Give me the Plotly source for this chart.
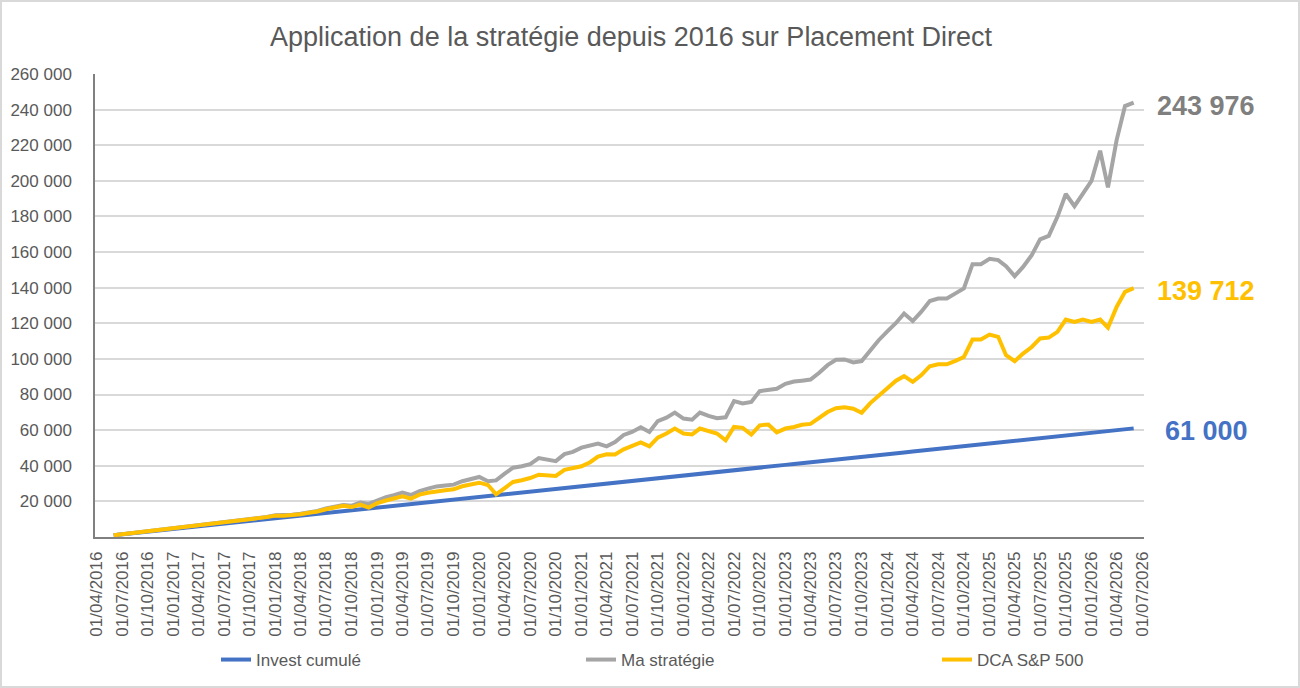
import pandas as pd
import plotly.graph_objects as go

# ---------------- data ----------------
START_MONTH = "2016-06-01"

invest_cumule = [
    1000, 1500, 2000, 2500, 3000, 3500, 4000, 4500, 5000, 5500,
    6000, 6500, 7000, 7500, 8000, 8500, 9000, 9500, 10000, 10500,
    11000, 11500, 12000, 12500, 13000, 13500, 14000, 14500, 15000, 15500,
    16000, 16500, 17000, 17500, 18000, 18500, 19000, 19500, 20000, 20500,
    21000, 21500, 22000, 22500, 23000, 23500, 24000, 24500, 25000, 25500,
    26000, 26500, 27000, 27500, 28000, 28500, 29000, 29500, 30000, 30500,
    31000, 31500, 32000, 32500, 33000, 33500, 34000, 34500, 35000, 35500,
    36000, 36500, 37000, 37500, 38000, 38500, 39000, 39500, 40000, 40500,
    41000, 41500, 42000, 42500, 43000, 43500, 44000, 44500, 45000, 45500,
    46000, 46500, 47000, 47500, 48000, 48500, 49000, 49500, 50000, 50500,
    51000, 51500, 52000, 52500, 53000, 53500, 54000, 54500, 55000, 55500,
    56000, 56500, 57000, 57500, 58000, 58500, 59000, 59500, 60000, 60500,
    61000,
]

ma_strategie = [
    1000, 1540, 2060, 2580, 3100, 3680, 4280, 4850, 5500, 6000,
    6550, 7100, 7650, 8300, 8800, 9400, 10000, 10700, 11300, 12200,
    12300, 12500, 13100, 13900, 14600, 16000, 17100, 18000, 17600, 19300,
    18600, 20800, 22400, 23500, 24900, 23600, 25800, 27200, 28400, 28900,
    29400, 31300, 32300, 33700, 31300, 31800, 35600, 38900, 39700, 40900,
    44300, 43600, 42600, 46500, 47800, 50200, 51200, 52500, 50900, 53300,
    57300, 59000, 61600, 59000, 65100, 67000, 69900, 66500, 65900, 69900,
    68000, 66700, 67200, 76300, 75000, 75800, 81900, 82600, 83200, 86000,
    87300, 87800, 88400, 92100, 96500, 99500, 99700, 98000, 98800, 104700,
    110500, 115500, 120200, 125500, 121300, 126400, 132500, 133900, 133900, 136800,
    139600, 153200, 153200, 156200, 155500, 152100, 146500, 151700, 158300, 167100,
    169100, 179800, 192600, 185800, 193000, 200000, 216900, 196300, 222900, 242000,
    243976,
]

dca_sp500 = [
    1000, 1530, 2050, 2560, 3080, 3650, 4250, 4800, 5450, 5950,
    6500, 7050, 7600, 8250, 8700, 9300, 9900, 10600, 11150, 12000,
    12000, 12200, 12800, 13600, 14300, 15600, 16700, 17500, 16800, 18200,
    16500, 19000, 20500, 21800, 22800, 21500, 23800, 24800, 25700, 26200,
    26800, 28500, 29500, 30500, 29200, 24000, 27500, 30900, 31900, 33100,
    35000, 34800, 34300, 37700, 38800, 39700, 42000, 45200, 46400, 46300,
    49200, 51200, 53100, 50900, 55800, 58100, 60900, 58100, 57600, 60900,
    59400, 58100, 54300, 61800, 61300, 57500, 62700, 63200, 58800, 60900,
    61800, 63000, 63500, 67000, 70200, 72300, 72900, 72000, 69800, 75200,
    79200, 83800, 87800, 90300, 87100, 90800, 95900, 97000, 97000, 98900,
    101100, 110900, 110900, 113700, 112400, 102100, 98700, 103000, 106700, 111500,
    112000, 115200, 122100, 120800, 122100, 120800, 122100, 117600, 129200, 137700,
    139712,
]

series_names = ["Invest cumulé", "Ma stratégie", "DCA S&P 500"]
series_colors = ["#4472C4", "#A5A5A5", "#FFC000"]
label_colors = ["#4472C4", "#7F7F7F", "#FFC000"]
y_tick_values = [20000, 40000, 60000, 80000, 100000, 120000, 140000,
                 160000, 180000, 200000, 220000, 240000, 260000]

title_text = "Application de la stratégie depuis 2016 sur Placement Direct"

# ---------------- figure ----------------
dates = pd.date_range(START_MONTH, periods=len(invest_cumule), freq="MS")
FONT = "Liberation Sans, Arial, sans-serif"
TXT = "#595959"


def fmt(v):
    return f"{int(round(v)):,}".replace(",", " ")


L, R, T, B = 95, 156, 74, 151
W, H = 1300, 688
pw, ph = W - L - R, H - T - B

legend_ids = ["legend", "legend2", "legend3"]
legend_left_px = [216, 581, 937]

fig = go.Figure()
for name, vals, col, lg in zip(series_names, [invest_cumule, ma_strategie, dca_sp500],
                               series_colors, legend_ids):
    fig.add_trace(go.Scatter(x=dates, y=vals, mode="lines", name=name, legend=lg,
                             line=dict(color=col, width=4)))

# end labels
for vals, col in zip([invest_cumule, ma_strategie, dca_sp500], label_colors):
    fig.add_annotation(x=(1206 - L) / pw, xref="paper", y=vals[-1], yref="y", yshift=-3,
                       text=f"<b>{fmt(vals[-1])}</b>", showarrow=False,
                       xanchor="center", yanchor="middle",
                       font=dict(family=FONT, size=27, color=col))

# outer chart border
fig.add_shape(type="rect", xref="paper", yref="paper",
              x0=(1 - L) / pw, x1=(W - 1 - L) / pw,
              y0=-(B - 1) / ph, y1=(ph + T - 1) / ph,
              line=dict(color="#D9D9D9", width=2), fillcolor="rgba(0,0,0,0)",
              layer="below")

legend_common = dict(orientation="h", xanchor="left", yanchor="middle",
                     y=-(660 - (H - B)) / ph,
                     font=dict(family=FONT, size=17, color=TXT),
                     bgcolor="rgba(0,0,0,0)")
legends = {}
for lg, px in zip(legend_ids, legend_left_px):
    legends[lg] = dict(legend_common, x=(px - L) / pw)

fig.update_layout(
    width=W, height=H,
    margin=dict(l=L, r=R, t=T, b=B, autoexpand=False),
    paper_bgcolor="white", plot_bgcolor="white",
    font=dict(family=FONT, size=17, color=TXT),
    title=dict(text=title_text, x=631 / W, xanchor="center",
               y=1 - 37 / H, yanchor="middle", automargin=False,
               font=dict(family=FONT, size=27, color=TXT)),
    showlegend=True,
    **legends,
    xaxis=dict(type="date", range=["2016-03-26", "2026-07-08"],
               tick0="2016-04-01", dtick="M3", tickformat="%d/%m/%Y",
               tickangle=-90, ticks="", showgrid=False, zeroline=False,
               showline=True, linecolor="#808080", linewidth=1.5,
               ticklabelstandoff=6, automargin=False,
               tickfont=dict(family=FONT, size=17, color=TXT)),
    yaxis=dict(range=[0, 260000], tickvals=y_tick_values,
               ticktext=[fmt(v) for v in y_tick_values],
               ticks="", showgrid=True, gridcolor="#D9D9D9", gridwidth=1.5,
               zeroline=False, showline=True, linecolor="#808080", linewidth=1.5,
               ticklabelstandoff=18, automargin=False,
               tickfont=dict(family=FONT, size=17, color=TXT)),
)

fig.write_html("out.html", config={"displayModeBar": False},
               post_script="document.body.style.margin='0';document.body.style.overflow='hidden';")
